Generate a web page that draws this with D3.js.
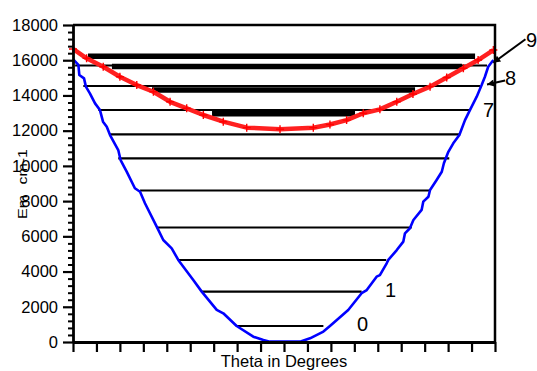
<!DOCTYPE html>
<html>
<head>
<meta charset="utf-8">
<script src="https://cdnjs.cloudflare.com/ajax/libs/d3/7.8.5/d3.min.js"></script>
<style>
  body { margin: 0; background: #fff; }
  svg { display: block; font-family: "Liberation Sans", Arial, Helvetica, sans-serif; }
</style>
</head>
<body>
<svg></svg>
<script>
const width = 537;
const height = 371;
const marginLeft = 73;
const marginRight = 42;
const marginTop = 25;
const marginBottom = 29;

// lower (blue) potential curve, theta in degrees / energy in cm-1
const blueTheta = [-89.9, -87.7, -87.3, -85.3, -84.5, -82.8, -80.6, -78.5, -77.2, -75.6, -74.2, -70.7,
  -69.7, -67.1, -63.6, -61.4, -59.3, -54.3, -51.5, -47.9, -45.1, -38.7, -35.1, -28.7, -25.9, -20.2,
  -13.1, -8.8, -6.0, 6.8, 11.1, 16.8, 19.6, 27.4, 33.1, 35.3, 39.5, 40.9, 43.8, 44.5, 48.1, 50.9,
  51.6, 53.7, 55.2, 58.7, 59.4, 61.6, 62.3, 65.1, 67.3, 68.2, 70.1, 72.2, 74.8, 77.2, 79.3, 82.2,
  84.3, 85.7, 87.1, 89.3];
const blueE = [16050, 15730, 15160, 14970, 14500, 14120, 13550, 13170, 12510, 12220, 11750, 10900,
  10330, 9670, 8730, 8530, 7880, 6550, 5790, 5320, 4660, 3520, 2860, 1820, 1630, 910,
  300, 110, 20, 20, 210, 590, 910, 1820, 2770, 2950, 3710, 3800, 4470, 4660, 5220, 5700,
  6170, 6460, 6930, 7500, 7970, 8250, 8630, 9200, 9670, 10150, 10800, 11280, 11750, 12600, 13170, 13930,
  14590, 15060, 15630, 16010];

// upper (red) curve
const redTheta = [-90.0, -84.2, -77.1, -70.0, -62.8, -55.7, -48.6, -41.5, -34.4, -25.9, -15.9, -1.7,
  12.5, 19.6, 26.7, 33.8, 40.9, 48.1, 55.0, 62.3, 69.4, 76.5, 82.8, 89.3];
const redE = [16640, 16110, 15630, 15060, 14590, 14210, 13640, 13270, 12890, 12510, 12170, 12080,
  12170, 12350, 12600, 12990, 13210, 13640, 14080, 14500, 15020, 15540, 16010, 16580];

// vibrational levels of the lower curve (thin lines)
const levelE = [908, 2856, 4656, 6501, 8602, 10430, 11793, 13173, 14536, 15700];
const levelLeft = [-20.2, -35.1, -45.1, -54.3, -61.4, -70.7, -74.2, -79.2, -85.6, -89.1];
const levelRight = [16.8, 33.1, 43.6, 54.5, 62.0, 70.5, 75.1, 79.3, 83.6, 86.6];

// levels of the upper curve (thick bars)
const barE = [16228, 15643, 14309, 12963];
const barLeft = [-83.6, -73.4, -56.3, -30.7];
const barRight = [81.5, 75.9, 55.9, 30.3];

// level numbers
const labelText = ["0", "1", "7", "8", "9"];
const labelTheta = [31.1, 43.1, 84.9, 94.3, 103.2];
const labelE = [625, 2555, 12776, 14592, 16750];

// arrows from label to curve
const arrowFrom = [[103.0, 17190], [94.3, 14850]];
const arrowTo = [[89.3, 15860], [86.6, 14620]];

const xTicks = [-90, -80, -70, -60, -50, -40, -30, -20, -10, 0, 10, 20, 30, 40, 50, 60, 70, 80, 90];
const yTicks = [0, 2000, 4000, 6000, 8000, 10000, 12000, 14000, 16000, 18000];

let svg = d3.select("svg")
    .attr("width", width)
    .attr("height", height);

const scX = d3.scaleLinear().domain([-90, 90]).range([marginLeft, width - marginRight]);
const scY = d3.scaleLinear().domain([0, 18000]).range([height - marginBottom, marginTop]);

function drawAxes() {
  // frame top and right
  svg.append("path")
    .attr("d", `M${scX(-90)},${scY(18000)}H${scX(90)}V${scY(0)}`)
    .attr("fill", "none")
    .attr("stroke", "#000")
    .attr("stroke-width", 2.5);

  // minor ticks on y
  const minor = d3.range(0, 18001, 400).filter(v => v % 2000 != 0);
  svg.append("g")
    .attr("transform", `translate(${marginLeft},0)`)
    .call(d3.axisLeft(scY).tickValues(minor).tickSize(5).tickFormat(""))
    .call(g => g.select(".domain").remove())
    .selectAll("line").attr("stroke-width", 2);

  let axisY = svg.append("g")
    .attr("transform", `translate(${marginLeft},0)`)
    .call(d3.axisLeft(scY).tickValues(yTicks).tickSize(10).tickPadding(5).tickSizeOuter(0).tickFormat(d3.format("d")));
  axisY.select(".domain").attr("stroke-width", 2.8);
  axisY.selectAll("line").attr("stroke-width", 2.2);
  axisY.selectAll("text").attr("font-size", 16.5).attr("fill", "#000")
    .attr("font-family", "Liberation Sans, Arial, sans-serif");

  let axisX = svg.append("g")
    .attr("transform", `translate(0,${height - marginBottom})`)
    .call(d3.axisBottom(scX).tickValues(xTicks).tickSize(10).tickSizeOuter(0).tickFormat(""));
  axisX.select(".domain").attr("stroke-width", 2.8);
  axisX.selectAll("line").attr("stroke-width", 2.2);

  svg.append("text")
    .attr("x", scX(0))
    .attr("y", 367)
    .attr("text-anchor", "middle")
    .attr("font-size", 16.5)
    .text("Theta in Degrees");

  // axis title, overlaps the tick labels like the original
  svg.append("text")
    .attr("transform", "translate(26.5,184) rotate(-90) scale(1,0.8)")
    .attr("text-anchor", "middle")
    .attr("font-size", 16)
    .attr("word-spacing", 6)
    .text("Em cm-1");
}

function drawLevels() {
  svg.append("g").selectAll("line")
    .data(levelE)
    .enter()
    .append("line")
    .attr("x1", (d, i) => scX(levelLeft[i]))
    .attr("x2", (d, i) => scX(levelRight[i]))
    .attr("y1", d => scY(d))
    .attr("y2", d => scY(d))
    .attr("stroke", "#000")
    .attr("stroke-width", 2.2);

  svg.append("g").selectAll("line")
    .data(barE)
    .enter()
    .append("line")
    .attr("x1", (d, i) => scX(barLeft[i]))
    .attr("x2", (d, i) => scX(barRight[i]))
    .attr("y1", d => scY(d))
    .attr("y2", d => scY(d))
    .attr("stroke", "#000")
    .attr("stroke-width", 5.5);
}

function drawCurves() {
  const line = d3.line()
    .x(d => scX(d[0]))
    .y(d => scY(d[1]));

  const blue = blueTheta.map((t, i) => [t, blueE[i]]);
  svg.append("path")
    .datum(blue)
    .attr("fill", "none")
    .attr("stroke", "#0000ff")
    .attr("stroke-width", 2.6)
    .attr("stroke-linejoin", "round")
    .attr("d", line);

  const red = redTheta.map((t, i) => [t, redE[i]]);
  svg.append("path")
    .datum(red)
    .attr("fill", "none")
    .attr("stroke", "#ff2020")
    .attr("stroke-width", 4.5)
    .attr("stroke-linejoin", "round")
    .attr("d", line);

  svg.append("g").selectAll("path")
    .data(red)
    .enter()
    .append("path")
    .attr("d", "M-4,0H4M0,-4V4")
    .attr("transform", d => `translate(${scX(d[0])},${scY(d[1])})`)
    .attr("stroke", "#ff0000")
    .attr("stroke-width", 1.4);
}

function drawLabels() {
  svg.append("g").selectAll("text")
    .data(labelText)
    .enter()
    .append("text")
    .attr("x", (d, i) => scX(labelTheta[i]))
    .attr("y", (d, i) => scY(labelE[i]))
    .attr("font-size", 20)
    .text(d => d);

  svg.append("defs").append("marker")
    .attr("id", "head")
    .attr("viewBox", "0 0 10 10")
    .attr("refX", 10).attr("refY", 5)
    .attr("markerWidth", 9).attr("markerHeight", 7)
    .attr("markerUnits", "userSpaceOnUse")
    .attr("orient", "auto")
    .append("path")
    .attr("d", "M0,0L10,5L0,10z")
    .attr("fill", "#000");

  svg.append("g").selectAll("line")
    .data(arrowFrom)
    .enter()
    .append("line")
    .attr("x1", d => scX(d[0]))
    .attr("y1", d => scY(d[1]))
    .attr("x2", (d, i) => scX(arrowTo[i][0]))
    .attr("y2", (d, i) => scY(arrowTo[i][1]))
    .attr("stroke", "#000")
    .attr("stroke-width", 2)
    .attr("marker-end", "url(#head)");
}

drawLevels();
drawCurves();
drawAxes();
drawLabels();
</script>
</body>
</html>
